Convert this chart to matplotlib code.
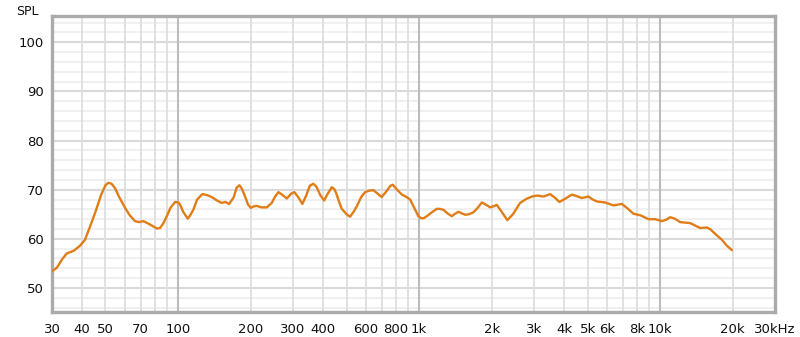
import numpy as np
from matplotlib import pyplot as plt

# ===================== data =====================
freq_hz = [30, 31.4, 33, 34.5, 37, 39.2, 41.1, 43, 45.3, 48, 50, 51.4, 53,
           54.8, 57, 60.3, 63, 66.3, 69, 71.8, 76, 81.7, 84.2, 87, 89.8, 93,
           97.2, 100, 101.9, 105, 109.7, 112, 115.7, 120, 126.1, 132, 138,
           145, 151.8, 156.7, 162.8, 170, 175, 179.6, 184, 189.7, 195, 200.3,
           206, 212.1, 222, 233.4, 244.7, 252, 260.8, 270, 282.5, 295, 303.8,
           315, 328, 340, 352, 364.2, 375, 390, 403.6, 418, 434.3, 445,
           452.9, 465, 477.8, 500, 517.3, 535, 551.3, 575, 597, 620, 646,
           672, 700, 735, 760, 778, 810, 848, 880, 917.6, 950, 993, 1020,
           1045, 1076, 1130, 1184, 1220, 1262, 1310, 1367, 1410, 1456, 1500,
           1552, 1610, 1680, 1750, 1820, 1900, 1971, 2030, 2101, 2200, 2323,
           2450, 2624, 2780, 2935, 3100, 3281, 3497, 3650, 3820, 4050, 4301,
           4500, 4732, 5041, 5250, 5460, 5911, 6400, 6935, 7276, 7750, 8260,
           8944, 9530, 10160, 10600, 11000, 11500, 12100, 13320, 14650, 15630,
           16200, 16910, 18030, 18910, 19840]
spl_db = [53.4, 54.1, 55.8, 57.0, 57.6, 58.6, 59.8, 62.3, 65.3, 69.0, 70.9,
          71.4, 71.2, 70.3, 68.5, 66.3, 64.8, 63.6, 63.4, 63.6, 63.0, 62.1,
          62.2, 63.2, 64.6, 66.3, 67.5, 67.4, 67.0, 65.5, 64.1, 64.7, 65.9,
          68.0, 69.1, 68.9, 68.5, 67.8, 67.3, 67.5, 67.1, 68.4, 70.4, 70.9,
          70.2, 68.6, 67.0, 66.3, 66.6, 66.7, 66.4, 66.4, 67.3, 68.5, 69.5,
          69.0, 68.2, 69.2, 69.5, 68.5, 67.1, 68.8, 70.8, 71.2, 70.6, 68.8,
          67.8, 69.2, 70.5, 70.1, 69.3, 67.6, 66.1, 65.0, 64.5, 65.5, 66.6,
          68.5, 69.5, 69.8, 69.9, 69.2, 68.5, 69.8, 70.8, 71.0, 70.0, 69.0,
          68.6, 68.0, 66.5, 64.6, 64.2, 64.2, 64.6, 65.4, 66.1, 66.1, 65.9,
          65.2, 64.6, 65.1, 65.5, 65.2, 64.9, 65.0, 65.4, 66.3, 67.4, 66.9,
          66.4, 66.6, 66.9, 65.5, 63.8, 65.0, 67.3, 68.1, 68.6, 68.8, 68.6,
          69.1, 68.4, 67.5, 68.2, 69.0, 68.7, 68.3, 68.6, 68.0, 67.6, 67.4,
          66.8, 67.1, 66.3, 65.1, 64.8, 64.0, 64.0, 63.6, 63.9, 64.4, 64.1,
          63.4, 63.2, 62.2, 62.3, 61.9, 61.0, 59.8, 58.6, 57.7]

xtick_vals = [30, 40, 50, 70, 100, 200, 300, 400, 600, 800, 1000, 2000,
              3000, 4000, 5000, 6000, 8000, 10000, 20000, 30000]
xtick_labels = ["30", "40", "50", "70", "100", "200", "300", "400", "600",
                "800", "1k", "2k", "3k", "4k", "5k", "6k", "8k", "10k",
                "20k", "30kHz"]
ytick_vals = [50, 60, 70, 80, 90, 100]

# ===================== figure =====================
fig = plt.figure(figsize=(8.0, 3.37), dpi=100)
ax = fig.add_axes([0.065, 0.074, 0.904, 0.878])
ax.set_xscale("log")
ax.set_xlim(30, 30000)
ax.set_ylim(45.1, 105.3)

# grid: minor every 2 dB, major every 10 dB
for y in np.arange(46, 105, 2):
    if y % 10 == 0:
        ax.axhline(y, color="#dadada", linewidth=1.5, zorder=1)
    else:
        ax.axhline(y, color="#ededed", linewidth=1.2, zorder=1)
for dec in [10, 100, 1000, 10000]:
    for m in range(1, 10):
        f = dec * m
        if f < 30 or f > 30000:
            continue
        if m == 1:
            ax.axvline(f, color="#bcbcbc", linewidth=1.5, zorder=1)
        else:
            ax.axvline(f, color="#dedede", linewidth=1.3, zorder=1)

ax.plot(freq_hz, spl_db, color="#e07d18", linewidth=1.7,
        solid_joinstyle="round", solid_capstyle="round", zorder=3)

ax.set_xticks(xtick_vals)
ax.set_xticklabels(xtick_labels)
ax.minorticks_off()
ax.set_yticks(ytick_vals)
ax.tick_params(axis="both", length=0, labelsize=9.5, colors="#111111")
ax.tick_params(axis="x", pad=8)
ax.tick_params(axis="y", pad=6)

for side in ax.spines.values():
    side.set_color("#ababab")
    side.set_linewidth(2.4)

fig.text(0.034, 0.985, "SPL", fontsize=9, ha="center", va="top",
         color="#111111")

fig.savefig("out.png", dpi=100)
